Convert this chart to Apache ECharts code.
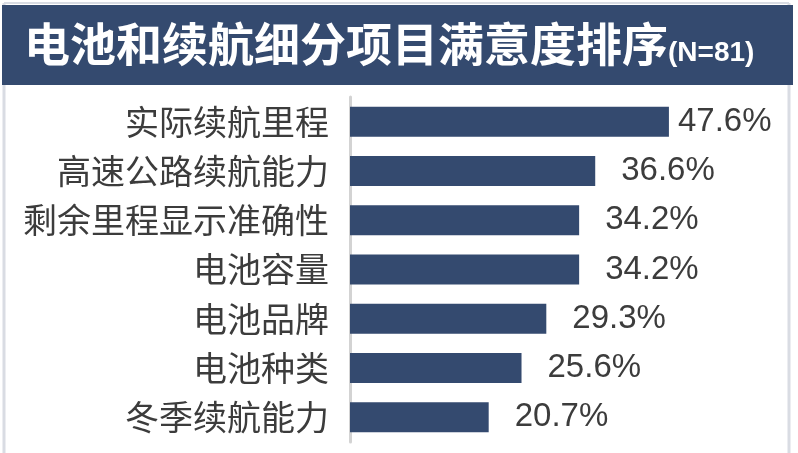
<!DOCTYPE html>
<html>
<head>
<meta charset="utf-8">
<script src="https://cdn.jsdelivr.net/npm/echarts@6/dist/echarts.min.js"></script>
<style>
  html, body { margin: 0; padding: 0; background: #fff; }
  #main { width: 798px; height: 453px; }
</style>
</head>
<body>
<div id="main"></div>
<script>
// 数据
var categories = ['实际续航里程', '高速公路续航能力', '剩余里程显示准确性', '电池容量', '电池品牌', '电池种类', '冬季续航能力'];
var values = [47.6, 36.6, 34.2, 34.2, 29.3, 25.6, 20.7];
var titleMain = '电池和续航细分项目满意度排序';
var titleSub = '(N=81)';

var myChart = echarts.init(document.getElementById('main'));
var font = '"Noto Sans CJK SC", "Liberation Sans", sans-serif';

// 第一个标签离柱子更近
var seriesData = values.map(function (v, i) {
  return i === 0 ? { value: v, label: { distance: 9 } } : v;
});

myChart.setOption({
  animation: false,
  backgroundColor: '#ffffff',
  graphic: [
    // 外框
    { type: 'line', shape: { x1: 4, y1: 3, x2: 789, y2: 3 }, style: { stroke: '#d9dce3', lineWidth: 2 } },
    { type: 'line', shape: { x1: 4, y1: 3, x2: 4, y2: 453 }, style: { stroke: '#d9dce3', lineWidth: 3 } },
    { type: 'line', shape: { x1: 789, y1: 3, x2: 789, y2: 453 }, style: { stroke: '#d9dce3', lineWidth: 3 } },
    // 标题背景
    { type: 'rect', shape: { x: 2, y: 5, width: 791, height: 80 }, style: { fill: '#344a6f' } },
    {
      type: 'text', left: 24, top: 21,
      style: {
        text: '{a|' + titleMain + '}{b|' + titleSub + '}',
        rich: {
          a: { fill: '#fff', fontSize: 46, fontWeight: 'bold', fontFamily: font, verticalAlign: 'bottom', lineHeight: 56 },
          b: { fill: '#fff', fontSize: 28, fontWeight: 'bold', fontFamily: '"Liberation Sans", sans-serif', verticalAlign: 'bottom', lineHeight: 38 }
        }
      }
    }
  ],
  grid: { left: 350, top: 97, width: 402, height: 345 },
  xAxis: {
    type: 'value', min: 0, max: 60, show: false
  },
  yAxis: {
    type: 'category',
    inverse: true,
    data: categories,
    axisTick: { show: false },
    axisLine: { lineStyle: { color: '#d3d3d3', width: 3 } },
    axisLabel: { color: '#3c3c3c', fontSize: 34, fontFamily: font, margin: 21 }
  },
  series: [{
    type: 'bar',
    data: seriesData,
    barWidth: 30,
    itemStyle: { color: '#344a6f' },
    label: {
      show: true, position: 'right', distance: 26,
      formatter: function (p) { return p.value.toFixed(1) + '%'; },
      color: '#3c3c3c', fontSize: 33, fontFamily: '"Liberation Sans", sans-serif'
    }
  }]
});
</script>
</body>
</html>
